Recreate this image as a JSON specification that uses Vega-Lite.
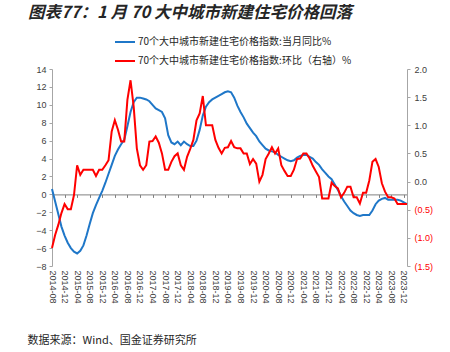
{
  "$schema": "https://vega.github.io/schema/vega-lite/v6.json",
  "autosize": "none",
  "width": 355,
  "height": 197,
  "padding": {"left": 52, "top": 69, "right": 43, "bottom": 86},
  "background": "white",
  "title": {"text": "图表77：1 月 70 大中城市新建住宅价格回落", "anchor": "start", "frame": "group", "dx": -24, "offset": 10, "font": "Noto Sans CJK SC", "fontSize": 16.5, "fontWeight": "bold", "fontStyle": "italic", "color": "#262626"},
  "config": {"view": {"stroke": null}, "font": "Liberation Sans"},
  "data": {"values": [
    {"m":"2014-08","a":0.6,"b":-1.18},{"m":"2014-09","a":-0.8,"b":-0.95},{"m":"2014-10","a":-2.2,"b":-0.77},{"m":"2014-11","a":-3.6,"b":-0.56},{"m":"2014-12","a":-4.6,"b":-0.40},
    {"m":"2015-01","a":-5.4,"b":-0.49},{"m":"2015-02","a":-6.0,"b":-0.49},{"m":"2015-03","a":-6.4,"b":-0.24},{"m":"2015-04","a":-6.6,"b":0.29},{"m":"2015-05","a":-6.3,"b":0.12},{"m":"2015-06","a":-5.7,"b":0.21},{"m":"2015-07","a":-4.6,"b":0.21},{"m":"2015-08","a":-3.3,"b":0.21},{"m":"2015-09","a":-2.1,"b":0.21},{"m":"2015-10","a":-1.2,"b":0.10},{"m":"2015-11","a":-0.4,"b":0.21},{"m":"2015-12","a":0.4,"b":0.21},
    {"m":"2016-01","a":1.3,"b":0.29},{"m":"2016-02","a":2.3,"b":0.38},{"m":"2016-03","a":3.3,"b":0.89},{"m":"2016-04","a":4.3,"b":1.09},{"m":"2016-05","a":5.0,"b":0.92},{"m":"2016-06","a":5.6,"b":0.71},{"m":"2016-07","a":6.1,"b":0.71},{"m":"2016-08","a":7.6,"b":1.45},{"m":"2016-09","a":9.2,"b":1.80},{"m":"2016-10","a":10.3,"b":1.33},{"m":"2016-11","a":10.8,"b":0.59},{"m":"2016-12","a":10.8,"b":0.29},
    {"m":"2017-01","a":10.7,"b":0.21},{"m":"2017-02","a":10.6,"b":0.29},{"m":"2017-03","a":10.4,"b":0.71},{"m":"2017-04","a":10.0,"b":0.72},{"m":"2017-05","a":9.6,"b":0.80},{"m":"2017-06","a":9.4,"b":0.69},{"m":"2017-07","a":9.2,"b":0.50},{"m":"2017-08","a":8.5,"b":0.21},{"m":"2017-09","a":6.6,"b":0.21},{"m":"2017-10","a":5.8,"b":0.35},{"m":"2017-11","a":5.6,"b":0.45},{"m":"2017-12","a":5.9,"b":0.50},
    {"m":"2018-01","a":5.5,"b":0.29},{"m":"2018-02","a":5.9,"b":0.21},{"m":"2018-03","a":5.6,"b":0.44},{"m":"2018-04","a":5.4,"b":0.58},{"m":"2018-05","a":5.4,"b":0.74},{"m":"2018-06","a":6.0,"b":1.09},{"m":"2018-07","a":7.2,"b":1.21},{"m":"2018-08","a":8.8,"b":1.52},{"m":"2018-09","a":9.8,"b":1.00},{"m":"2018-10","a":10.3,"b":1.00},{"m":"2018-11","a":10.6,"b":1.00},{"m":"2018-12","a":10.8,"b":0.74},
    {"m":"2019-01","a":11.0,"b":0.60},{"m":"2019-02","a":11.2,"b":0.50},{"m":"2019-03","a":11.4,"b":0.60},{"m":"2019-04","a":11.5,"b":0.61},{"m":"2019-05","a":11.4,"b":0.72},{"m":"2019-06","a":10.8,"b":0.61},{"m":"2019-07","a":9.9,"b":0.59},{"m":"2019-08","a":9.2,"b":0.59},{"m":"2019-09","a":8.6,"b":0.50},{"m":"2019-10","a":7.9,"b":0.50},{"m":"2019-11","a":7.4,"b":0.31},{"m":"2019-12","a":6.9,"b":0.40},
    {"m":"2020-01","a":6.5,"b":0.32},{"m":"2020-02","a":5.9,"b":0.00},{"m":"2020-03","a":5.5,"b":0.12},{"m":"2020-04","a":5.1,"b":0.40},{"m":"2020-05","a":4.9,"b":0.50},{"m":"2020-06","a":4.8,"b":0.61},{"m":"2020-07","a":4.7,"b":0.50},{"m":"2020-08","a":4.4,"b":0.59},{"m":"2020-09","a":4.2,"b":0.29},{"m":"2020-10","a":4.0,"b":0.19},{"m":"2020-11","a":3.8,"b":0.10},{"m":"2020-12","a":3.7,"b":0.10},
    {"m":"2021-01","a":3.8,"b":0.21},{"m":"2021-02","a":4.1,"b":0.40},{"m":"2021-03","a":4.3,"b":0.41},{"m":"2021-04","a":4.4,"b":0.50},{"m":"2021-05","a":4.4,"b":0.50},{"m":"2021-06","a":4.2,"b":0.41},{"m":"2021-07","a":4.0,"b":0.28},{"m":"2021-08","a":3.6,"b":0.18},{"m":"2021-09","a":3.3,"b":0.08},{"m":"2021-10","a":2.8,"b":-0.30},{"m":"2021-11","a":2.4,"b":-0.30},{"m":"2021-12","a":2.0,"b":-0.30},
    {"m":"2022-01","a":1.7,"b":-0.02},{"m":"2022-02","a":1.1,"b":-0.08},{"m":"2022-03","a":0.5,"b":-0.12},{"m":"2022-04","a":-0.2,"b":-0.28},{"m":"2022-05","a":-0.8,"b":-0.20},{"m":"2022-06","a":-1.3,"b":-0.09},{"m":"2022-07","a":-1.8,"b":-0.09},{"m":"2022-08","a":-2.1,"b":-0.28},{"m":"2022-09","a":-2.3,"b":-0.28},{"m":"2022-10","a":-2.4,"b":-0.39},{"m":"2022-11","a":-2.3,"b":-0.20},{"m":"2022-12","a":-2.3,"b":-0.20},
    {"m":"2023-01","a":-2.3,"b":0.02},{"m":"2023-02","a":-1.8,"b":0.35},{"m":"2023-03","a":-1.1,"b":0.40},{"m":"2023-04","a":-0.7,"b":0.26},{"m":"2023-05","a":-0.5,"b":-0.03},{"m":"2023-06","a":-0.4,"b":-0.18},{"m":"2023-07","a":-0.6,"b":-0.28},{"m":"2023-08","a":-0.6,"b":-0.28},{"m":"2023-09","a":-0.6,"b":-0.30},{"m":"2023-10","a":-0.6,"b":-0.40},{"m":"2023-11","a":-0.7,"b":-0.40},{"m":"2023-12","a":-0.9,"b":-0.40},
    {"m":"2024-01","a":-1.1,"b":-0.40}
  ]},
  "resolve": {"scale": {"y": "independent"}, "axis": {"x": "independent"}},
  "layer": [
    {
      "mark": {"type": "line", "strokeWidth": 2, "interpolate": "linear"},
      "encoding": {
        "x": {"field": "m", "type": "ordinal", "sort": null, "scale": {"type": "point", "padding": 0},
          "axis": {"orient": "bottom", "domain": false, "ticks": false, "labelAngle": 90, "labelAlign": "left", "labelBaseline": "middle", "labelPadding": 4, "labelFontSize": 9, "labelColor": "#404040", "labelFont": "Liberation Sans",
            "values": ["2014-08","2014-12","2015-04","2015-08","2015-12","2016-04","2016-08","2016-12","2017-04","2017-08","2017-12","2018-04","2018-08","2018-12","2019-04","2019-08","2019-12","2020-04","2020-08","2020-12","2021-04","2021-08","2021-12","2022-04","2022-08","2022-12","2023-04","2023-08","2023-12"],
            "title": "数据来源：Wind、国金证券研究所", "titleFont": "Noto Sans CJK SC", "titleFontSize": 11, "titleFontWeight": "normal", "titleColor": "#262626", "titleAnchor": "start", "titleAlign": "left", "titleBaseline": "middle", "titleX": -25, "titleY": 74}},
        "y": {"field": "a", "type": "quantitative", "scale": {"domain": [-8, 14], "nice": false, "zero": false},
          "axis": {"orient": "left", "values": [-8,-6,-4,-2,0,2,4,6,8,10,12,14], "grid": false, "title": null, "domainColor": "#a6a6a6", "tickColor": "#a6a6a6", "tickSize": 3, "labelFontSize": 9, "labelColor": "#404040", "labelPadding": 3}},
        "color": {"datum": "70个大中城市新建住宅价格指数:当月同比%", "type": "nominal",
          "scale": {"domain": ["70个大中城市新建住宅价格指数:当月同比%", "70个大中城市新建住宅价格指数:环比（右轴）%"], "range": ["#1f77c8", "#ff0000"]},
          "legend": {"orient": "none", "legendX": 62, "legendY": -38, "direction": "vertical", "title": null, "symbolType": "stroke", "symbolSize": 400, "symbolStrokeWidth": 2, "labelFont": "Noto Sans CJK SC", "labelFontSize": 10, "labelLimit": 0, "labelColor": "#262626", "labelOffset": 2, "rowPadding": 3}}
      }
    },
    {
      "mark": {"type": "line", "strokeWidth": 2, "interpolate": "linear"},
      "encoding": {
        "x": {"field": "m", "type": "ordinal", "sort": null, "scale": {"type": "point", "padding": 0},
          "axis": {"orient": "bottom", "offset": -71.6, "labels": false, "title": null, "domainColor": "#808080", "tickColor": "#808080", "tickSize": 3,
            "values": ["2014-08","2014-12","2015-04","2015-08","2015-12","2016-04","2016-08","2016-12","2017-04","2017-08","2017-12","2018-04","2018-08","2018-12","2019-04","2019-08","2019-12","2020-04","2020-08","2020-12","2021-04","2021-08","2021-12","2022-04","2022-08","2022-12","2023-04","2023-08","2023-12"]}},
        "y": {"field": "b", "type": "quantitative", "scale": {"domain": [-1.5, 2.0], "nice": false, "zero": false},
          "axis": {"orient": "right", "values": [-1.5,-1,-0.5,0,0.5,1,1.5,2], "grid": false, "title": null, "domainColor": "#a6a6a6", "tickColor": "#a6a6a6", "tickSize": 3, "labelFontSize": 9, "labelPadding": 4,
            "labelExpr": "datum.value < 0 ? '(' + format(-datum.value, '.1f') + ')' : format(datum.value, '.1f')",
            "labelColor": {"condition": {"test": "datum.value < 0", "value": "#ff0000"}, "value": "#404040"}}},
        "color": {"datum": "70个大中城市新建住宅价格指数:环比（右轴）%", "type": "nominal"}
      }
    }
  ]
}
